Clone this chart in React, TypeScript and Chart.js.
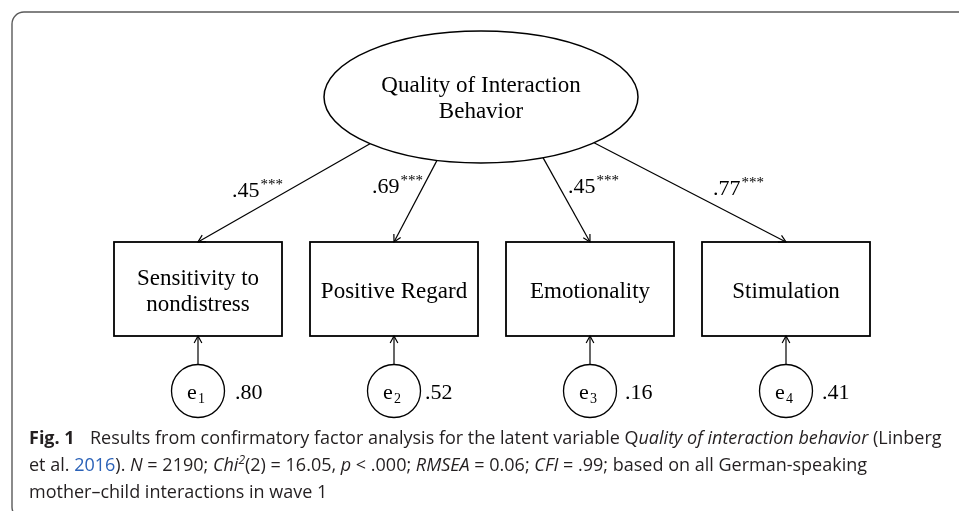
import React, { useEffect, useRef } from "react";
import { Chart, registerables } from "chart.js";
Chart.register(...registerables);

// ---------------- data ----------------
const latentLabel = ["Quality of Interaction", "Behavior"];
const indicatorLabels = [["Sensitivity to", "nondistress"], ["Positive Regard"], ["Emotionality"], ["Stimulation"]];
const loadings = [0.45, 0.69, 0.45, 0.77];
const loadingSig = ["***", "***", "***", "***"];
const errorIndex = ["1", "2", "3", "4"];
const residuals = [0.80, 0.52, 0.16, 0.41];

type Seg = { t: string; s?: "n" | "b" | "i" | "sup" | "link" | "gap" };
const captionLines: Seg[][] = [
  [
    { t: "Fig. 1", s: "b" },
    { t: "", s: "gap" },
    { t: "Results from confirmatory factor analysis for the latent variable " },
    { t: "Q" },
    { t: "uality of interaction behavior", s: "i" },
    { t: " (Linberg" },
  ],
  [
    { t: "et al. " },
    { t: "2016", s: "link" },
    { t: "). " },
    { t: "N", s: "i" },
    { t: " = 2190; " },
    { t: "Chi", s: "i" },
    { t: "2", s: "sup" },
    { t: "(2) = 16.05, " },
    { t: "p", s: "i" },
    { t: " < .000; " },
    { t: "RMSEA", s: "i" },
    { t: " = 0.06; " },
    { t: "CFI", s: "i" },
    { t: " = .99; based on all German-speaking" },
  ],
  [{ t: "mother\u2013child interactions in wave 1" }],
];

// ---------------- layout ----------------
const W = 959;
const H = 511;
const indicatorX = [198, 394, 590, 786];
const boxW = 168;
const boxTop = 242;
const boxBottom = 336;
const latent = { cx: 481, cy: 97, rx: 157, ry: 66 };
const pathStartX = [370, 437, 543, 594];
const loadingLabelPos = [
  [232, 197],
  [372, 193],
  [568, 193],
  [713, 195],
];
const errY = 391;
const errR = 26.5;
const residualLabelX = [235, 425, 625, 822];
const residualBaseline = 399;
const captionX = 29;
const captionBaselines = [444, 471, 498];
const captionLine1Width = 914;

const SERIF = '"Liberation Serif", "Times New Roman", serif';
const SANS = '"Open Sans", "Noto Sans", sans-serif';
const INK = "#000000";
const CAPTION_INK = "#231f20";
const LINK = "#2b62b8";

const fmt = (v: number) => "." + Math.round(v * 100).toString().padStart(2, "0");

function ellipseY(x: number) {
  const d = (x - latent.cx) / latent.rx;
  return latent.cy + latent.ry * Math.sqrt(Math.max(0, 1 - d * d));
}

function arrowHead(ctx: CanvasRenderingContext2D, x1: number, y1: number, x2: number, y2: number) {
  const a = Math.atan2(y2 - y1, x2 - x1);
  const L = 8;
  const th = 0.5;
  ctx.beginPath();
  ctx.moveTo(x2 - L * Math.cos(a - th), y2 - L * Math.sin(a - th));
  ctx.lineTo(x2, y2);
  ctx.lineTo(x2 - L * Math.cos(a + th), y2 - L * Math.sin(a + th));
  ctx.stroke();
}

function segFont(s: Seg["s"], size: number) {
  if (s === "b") return `bold ${size}px ${SANS}`;
  if (s === "i") return `italic ${size}px ${SANS}`;
  if (s === "sup") return `italic ${Math.round(size * 0.68)}px ${SANS}`;
  return `${size}px ${SANS}`;
}

function richWidth(ctx: CanvasRenderingContext2D, segs: Seg[], size: number) {
  let w = 0;
  for (const sg of segs) {
    if (sg.s === "gap") { w += size * 0.85; continue; }
    ctx.font = segFont(sg.s, size);
    w += ctx.measureText(sg.t).width;
  }
  return w;
}

function drawRich(ctx: CanvasRenderingContext2D, segs: Seg[], x: number, y: number, size: number) {
  let cx = x;
  for (const sg of segs) {
    if (sg.s === "gap") { cx += size * 0.85; continue; }
    ctx.font = segFont(sg.s, size);
    ctx.fillStyle = sg.s === "link" ? LINK : CAPTION_INK;
    const dy = sg.s === "sup" ? -size * 0.38 : 0;
    ctx.fillText(sg.t, cx, y + dy);
    cx += ctx.measureText(sg.t).width;
  }
}

const diagramPlugin = {
  id: "diagram",
  beforeDatasetsDraw(chart: any) {
    const ctx: CanvasRenderingContext2D = chart.ctx;
    const xs = chart.scales.x;
    const ys = chart.scales.y;
    const px = (v: number) => xs.getPixelForValue(v);
    const py = (v: number) => ys.getPixelForValue(v);
    ctx.save();
    // frame
    ctx.strokeStyle = "#5a5a5a";
    ctx.lineWidth = 1.4;
    ctx.beginPath();
    ctx.moveTo(px(W + 5), py(12));
    ctx.lineTo(px(24), py(12));
    ctx.arcTo(px(12), py(12), px(12), py(24), 12);
    ctx.lineTo(px(12), py(507));
    ctx.arcTo(px(12), py(519), px(24), py(519), 12);
    ctx.stroke();

    // latent ellipse
    ctx.strokeStyle = INK;
    ctx.lineWidth = 1.5;
    ctx.beginPath();
    ctx.ellipse(px(latent.cx), py(latent.cy), latent.rx, latent.ry, 0, 0, Math.PI * 2);
    ctx.fillStyle = "#fff";
    ctx.fill();
    ctx.stroke();

    // indicator boxes
    ctx.lineWidth = 1.8;
    indicatorX.forEach((x) => {
      const l = px(x - boxW / 2), r = px(x + boxW / 2);
      const t = py(boxTop), b = py(boxBottom);
      ctx.strokeRect(l, t, r - l, b - t);
    });
    ctx.restore();
  },
  afterDatasetsDraw(chart: any) {
    const ctx: CanvasRenderingContext2D = chart.ctx;
    const xs = chart.scales.x;
    const ys = chart.scales.y;
    const px = (v: number) => xs.getPixelForValue(v);
    const py = (v: number) => ys.getPixelForValue(v);
    ctx.save();
    ctx.strokeStyle = INK;
    ctx.lineWidth = 1.2;
    // arrowheads
    indicatorX.forEach((x, i) => {
      const sx = pathStartX[i];
      arrowHead(ctx, px(sx), py(ellipseY(sx)), px(x), py(boxTop));
      arrowHead(ctx, px(x), py(errY - errR), px(x), py(boxBottom));
    });

    ctx.fillStyle = INK;
    ctx.textBaseline = "alphabetic";
    // latent label
    ctx.textAlign = "center";
    ctx.font = `23px ${SERIF}`;
    latentLabel.forEach((t, i) => {
      ctx.fillText(t, px(latent.cx), py(latent.cy + 8 - 13 * (latentLabel.length - 1) + 26 * i));
    });
    // indicator labels
    indicatorLabels.forEach((lines, k) => {
      const cy = (boxTop + boxBottom) / 2 + 9;
      lines.forEach((t, i) => {
        ctx.fillText(t, px(indicatorX[k]), py(cy - 13 * (lines.length - 1) + 26 * i));
      });
    });
    // loadings
    ctx.textAlign = "left";
    loadings.forEach((v, i) => {
      const [lx, ly] = loadingLabelPos[i];
      ctx.font = `22px ${SERIF}`;
      const s = fmt(v);
      ctx.fillText(s, px(lx), py(ly));
      const w = ctx.measureText(s).width;
      ctx.font = `15px ${SERIF}`;
      ctx.fillText(loadingSig[i], px(lx) + w + 1, py(ly - 8));
    });
    // error labels
    errorIndex.forEach((n, i) => {
      ctx.font = `22px ${SERIF}`;
      const we = ctx.measureText("e").width;
      ctx.font = `14px ${SERIF}`;
      const wn = ctx.measureText(n).width;
      const total = we + 1 + wn;
      const x0 = px(indicatorX[i] - 2) - total / 2;
      ctx.font = `22px ${SERIF}`;
      ctx.fillText("e", x0, py(residualBaseline));
      ctx.font = `14px ${SERIF}`;
      ctx.fillText(n, x0 + we + 1, py(residualBaseline + 4));
      ctx.font = `22px ${SERIF}`;
      ctx.fillText(fmt(residuals[i]), px(residualLabelX[i]), py(residualBaseline));
    });

    // caption
    const w20 = richWidth(ctx, captionLines[0], 20);
    const size = Math.round((20 * captionLine1Width / w20) * 10) / 10;
    captionLines.forEach((segs, i) => {
      drawRich(ctx, segs, px(captionX), py(captionBaselines[i]), size);
    });
    ctx.restore();
  },
};

export default function App() {
  const ref = useRef<HTMLCanvasElement | null>(null);
  useEffect(() => {
    document.body.style.margin = "0";
    const canvas = ref.current!;
    const datasets: any[] = [];
    indicatorX.forEach((x, i) => {
      const sx = pathStartX[i];
      datasets.push({
        type: "line",
        data: [{ x: sx, y: ellipseY(sx) }, { x, y: boxTop }],
        borderColor: INK,
        borderWidth: 1.2,
        pointRadius: 0,
        showLine: true,
        fill: false,
      });
      datasets.push({
        type: "line",
        data: [{ x, y: errY - errR }, { x, y: boxBottom }],
        borderColor: INK,
        borderWidth: 1.2,
        pointRadius: 0,
        showLine: true,
        fill: false,
      });
    });
    datasets.push({
      type: "scatter",
      data: indicatorX.map((x) => ({ x, y: errY })),
      pointRadius: errR,
      pointBackgroundColor: "#fff",
      pointBorderColor: INK,
      pointBorderWidth: 1.3,
    });
    const chart = new Chart(canvas, {
      type: "scatter",
      data: { datasets },
      options: {
        animation: false,
        responsive: false,
        devicePixelRatio: 1,
        events: [],
        layout: { padding: 0, autoPadding: false },
        plugins: { legend: { display: false }, tooltip: { enabled: false } },
        scales: {
          x: { type: "linear", min: 0, max: W, display: false },
          y: { type: "linear", min: 0, max: H, reverse: true, display: false },
        },
      },
      plugins: [diagramPlugin],
    } as any);
    return () => chart.destroy();
  }, []);
  return (
    <div style={{ position: "fixed", left: 0, top: 0, width: W, height: H, background: "#fff" }}>
      <canvas ref={ref} width={W} height={H} style={{ display: "block" }} />
    </div>
  );
}
